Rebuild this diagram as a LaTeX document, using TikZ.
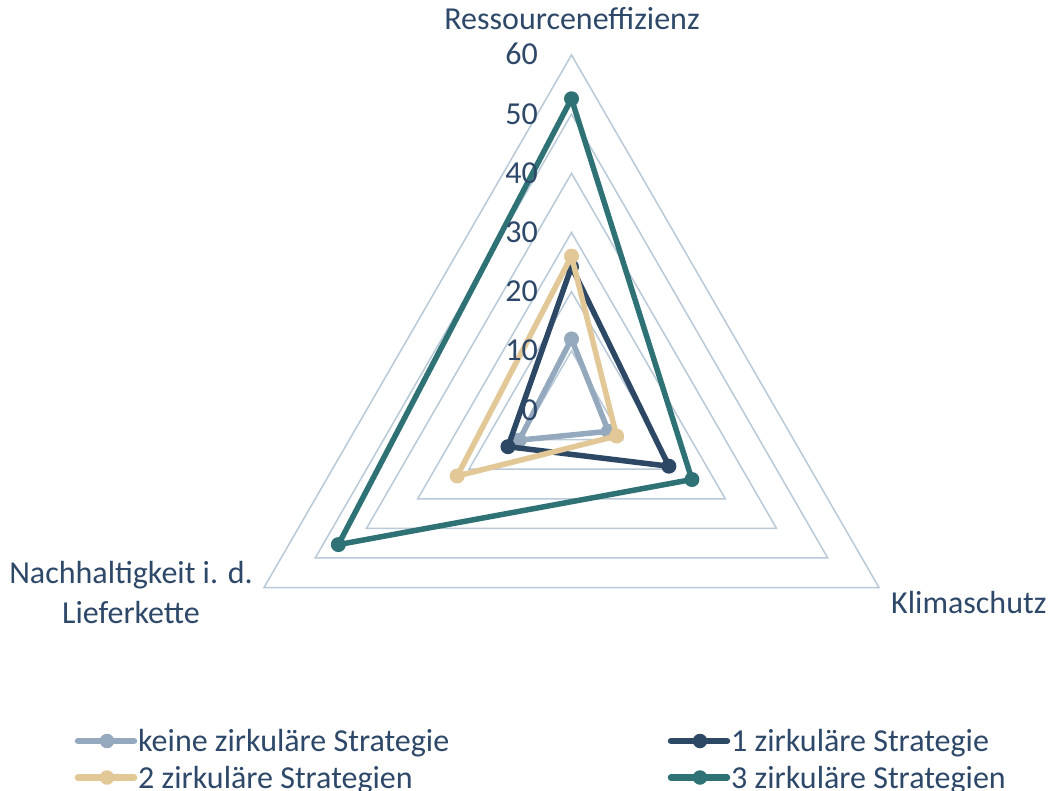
\documentclass[tikz,border=0pt]{standalone}
\usepackage{fontspec}
\setmainfont{Carlito}
\definecolor{txt}{HTML}{2D4868}
\definecolor{gridc}{HTML}{B9C9D8}
\definecolor{ser0}{HTML}{94A9BE}
\definecolor{ser1}{HTML}{2C4864}
\definecolor{ser2}{HTML}{E2C797}
\definecolor{ser3}{HTML}{2F7276}
\tikzset{
  gridline/.style={draw=gridc, line width=1.5pt, line join=miter},
  serline/.style={draw=#1, line width=5.5pt, line join=round},
  dot/.style={circle, fill=#1, draw=none, inner sep=0pt, minimum size=15pt},
  legline/.style={draw=#1, line width=6.5pt, line cap=round},
  legdot/.style={circle, fill=#1, draw=none, inner sep=0pt, minimum size=14.5pt},
  lab/.style={text=txt, font=\fontsize{32}{38}\selectfont, inner sep=0pt},
}
\begin{document}
\begin{tikzpicture}[x=1pt,y=-1pt]
\useasboundingbox[fill=white] (0,0) rectangle (1049,791);
\begin{scope}[shift={(571.5,410)}]
  \foreach \k in {1,...,6}
    \draw[gridline] (-90:{\k*59.17}) -- (30:{\k*59.17}) -- (150:{\k*59.17}) -- cycle;
  \foreach \nm/\col/\a/\b/\c in {s0/ser0/12/7.2/10.2, s1/ser1/24.2/19/12.4, s2/ser2/26/8.8/22.3, s3/ser3/52.6/23.5/45.5} {
    \coordinate (\nm-r) at (-90:{\a*5.917});
    \coordinate (\nm-k) at (30:{\b*5.917});
    \coordinate (\nm-n) at (150:{\c*5.917});
    \draw[serline=\col] (\nm-r) -- (\nm-k) -- (\nm-n) -- cycle;
    \node[dot=\col] (\nm-dr) at (\nm-r) {};
    \node[dot=\col] (\nm-dk) at (\nm-k) {};
    \node[dot=\col] (\nm-dn) at (\nm-n) {};
  }
\end{scope}
% tick labels
\foreach \k in {0,...,6}
  \node[lab, anchor=base east] (t\k) at (538,{410-\k*59.17+10}) {\the\numexpr\k*10\relax};
% axis labels
\node[lab, anchor=base] (axr) at (572,29.3) {Ressourceneffizienz};
\node[lab, anchor=base west] (axk) at (891,613) {Klimaschutz};
\node[lab, anchor=base] (axn1) at (131,583) {Nachhaltigkeit i. d.};
\node[lab, anchor=base] (axn2) at (131,623) {Lieferkette};
% legend
\foreach \nm/\col/\x/\y/\t in {l0/ser0/78/741/keine zirkuläre Strategie, l1/ser1/671/741/1 zirkuläre Strategie, l2/ser2/78/777.5/2 zirkuläre Strategien, l3/ser3/671/777.5/3 zirkuläre Strategien} {
  \coordinate (\nm-a) at (\x,\y);
  \coordinate (\nm-b) at ({\x+56},\y);
  \draw[legline=\col] (\nm-a) -- (\nm-b);
  \node[legdot=\col] (\nm-d) at ({\x+29},\y) {};
  \node[lab, anchor=base west] (\nm-t) at ({\x+60},{\y+10.5}) {\t};
}
\end{tikzpicture}
\end{document}
